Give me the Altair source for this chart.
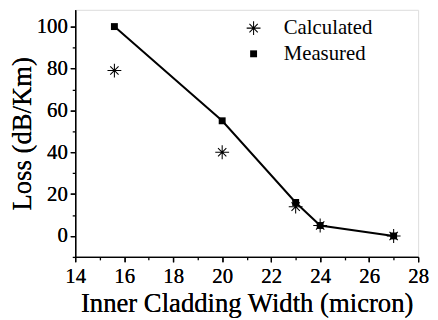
import math
import altair as alt
import pandas as pd

width_um = [15.6, 20, 23, 24, 27]
measured = [100, 55, 16, 5, 0]
calculated = [79, 40, 14, 5, 0]

x_major = [14, 16, 18, 20, 22, 24, 26, 28]
x_minor = [15, 17, 19, 21, 23, 25, 27]
y_major = [0, 20, 40, 60, 80, 100]
y_minor = [-10, 10, 30, 50, 70, 90]

FONT = "Liberation Serif"


def bar_path(angle_deg, length, half_w):
    a = math.radians(angle_deg)
    dx, dy = math.cos(a), math.sin(a)
    nx, ny = -dy, dx
    pts = [(-dx * length - nx * half_w, -dy * length - ny * half_w),
           (dx * length - nx * half_w, dy * length - ny * half_w),
           (dx * length + nx * half_w, dy * length + ny * half_w),
           (-dx * length + nx * half_w, -dy * length + ny * half_w)]
    return "M" + "L".join(f"{px:.3f},{py:.3f}" for px, py in pts) + "Z"


ASTER = "".join(bar_path(a, 1.0 if a % 90 == 0 else 0.85, 0.075) for a in (0, 45, 90, 135))
SQUARE = "M-0.5,-0.5L0.5,-0.5L0.5,0.5L-0.5,0.5Z"

df_meas = pd.DataFrame({"w": width_um, "loss": measured, "series": "Measured"})
df_calc = pd.DataFrame({"w": width_um, "loss": calculated, "series": "Calculated"})
df_pts = pd.concat([df_calc, df_meas], ignore_index=True)

xs = alt.Scale(domain=[14, 28], nice=False, zero=False)
ys = alt.Scale(domain=[-10, 108], nice=False, zero=False)

x_axis = alt.Axis(values=x_major, title="Inner Cladding Width (micron)", grid=False,
                  labelFont=FONT, labelFontSize=21, labelColor="black", labelPadding=4,
                  titleFont=FONT, titleFontSize=27, titleFontWeight="normal", titleColor="black",
                  titlePadding=4, tickSize=5, tickWidth=1.3, tickColor="black",
                  domainColor="black", domainWidth=1.3, orient="bottom", labelFlush=False)
y_axis = alt.Axis(values=y_major, title="Loss (dB/Km)", grid=False,
                  labelFont=FONT, labelFontSize=21, labelColor="black", labelPadding=3,
                  titleFont=FONT, titleFontSize=27, titleFontWeight="normal", titleColor="black",
                  titlePadding=0, tickSize=5, tickWidth=1.3, tickColor="black",
                  domainColor="black", domainWidth=1.3, orient="left", labelFlush=False)

line = alt.Chart(df_meas).mark_line(color="black", strokeWidth=2).encode(
    x=alt.X("w:Q", scale=xs, axis=x_axis),
    y=alt.Y("loss:Q", scale=ys, axis=y_axis),
)

points = alt.Chart(df_pts).mark_point(filled=True, color="black", opacity=1, size=196).encode(
    x=alt.X("w:Q", scale=xs, axis=x_axis),
    y=alt.Y("loss:Q", scale=ys, axis=y_axis),
    shape=alt.Shape("series:N",
                    scale=alt.Scale(domain=["Calculated", "Measured"], range=[ASTER, SQUARE]),
                    legend=alt.Legend(title=None, orient="none", legendX=170, legendY=8,
                                      labelFont=FONT, labelFontSize=21, labelColor="black",
                                      symbolSize=196, symbolFillColor="black",
                                      symbolStrokeWidth=0, symbolOpacity=1,
                                      labelOffset=20, rowPadding=4)),
)

minor = alt.Chart(df_meas).mark_point(opacity=0).encode(
    x=alt.X("w:Q", scale=xs, axis=alt.Axis(values=x_minor, labels=False, title=None, grid=False,
                                             domain=False, tickSize=3, tickWidth=1.3,
                                             tickColor="black", orient="bottom")),
    y=alt.Y("loss:Q", scale=ys, axis=alt.Axis(values=y_minor, labels=False, title=None, grid=False,
                                               domain=False, tickSize=3, tickWidth=1.3,
                                               tickColor="black", orient="left")),
)

chart = alt.layer(line, points, minor).resolve_axis(
    x="independent", y="independent"
).properties(
    width=347, height=250,
    autosize=alt.AutoSizeParams(type="none"),
    padding={"left": 68, "top": 0, "right": 12, "bottom": 62},
).configure_view(stroke=None).configure(background="white")

chart.save("out.html", embed_options={"renderer": "svg", "actions": False})
